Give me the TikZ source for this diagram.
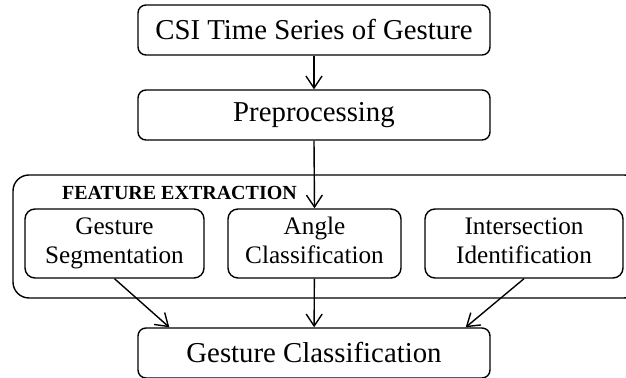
\documentclass[tikz,border=0pt]{standalone}
\usepackage{fontspec}
\setmainfont{Liberation Serif}
\usetikzlibrary{arrows.meta, positioning, calc}
\tikzset{
    >={Straight Barb[length=6pt,width=8pt]},
    % Shapes
    stage/.style={rectangle, draw, line width=0.7pt, rounded corners=4pt,
                  minimum width=176pt, minimum height=25pt, align=center,
                  font=\fontsize{14.4}{17}\selectfont},
    subStage/.style={rectangle, draw, line width=0.7pt, rounded corners=5pt,
                     minimum height=34.5pt, align=center, inner sep=1pt,
                     font=\fontsize{12.6}{14.5}\selectfont},
    group/.style={draw, line width=0.7pt, rounded corners=8pt},
    % Flow & Labels
    flow/.style={->, line width=0.7pt},
    lbl/.style={font=\fontsize{10}{12}\bfseries\selectfont, inner sep=0pt}
}
\begin{document}
\begin{tikzpicture}[x=0.5pt, y=-0.5pt]
\useasboundingbox (0,0) rectangle (626,378);

\node[stage] (csi) at (314,30) {CSI Time Series of Gesture};
\node[stage] (pre) at (314,115) {Preprocessing};

% feature extraction group
\draw[group] (13,175) rectangle (640,298);
\node[lbl] (fe) at (179.5,192.5) {FEATURE EXTRACTION};
\node[subStage, minimum width=89.5pt] (seg) at (114.5,243.5) {\strut Gesture\\\strut Segmentation};
\node[subStage, minimum width=86.5pt] (ang) at (314.5,243.5) {\strut Angle\\\strut Classification};
\node[subStage, minimum width=99pt] (int) at (524,243.5) {\strut Intersection\\\strut Identification};

\node[stage] (cls) at (314,353) {Gesture Classification};

\draw[flow] (csi) -- (pre);
\draw[flow] (pre.south) -- (ang.north);
\draw[flow] (seg.south) -- ([xshift=16pt]cls.north west);
\draw[flow] (ang) -- (cls);
\draw[flow] (int.south) -- ([xshift=-12.5pt]cls.north east);

\end{tikzpicture}
\end{document}
